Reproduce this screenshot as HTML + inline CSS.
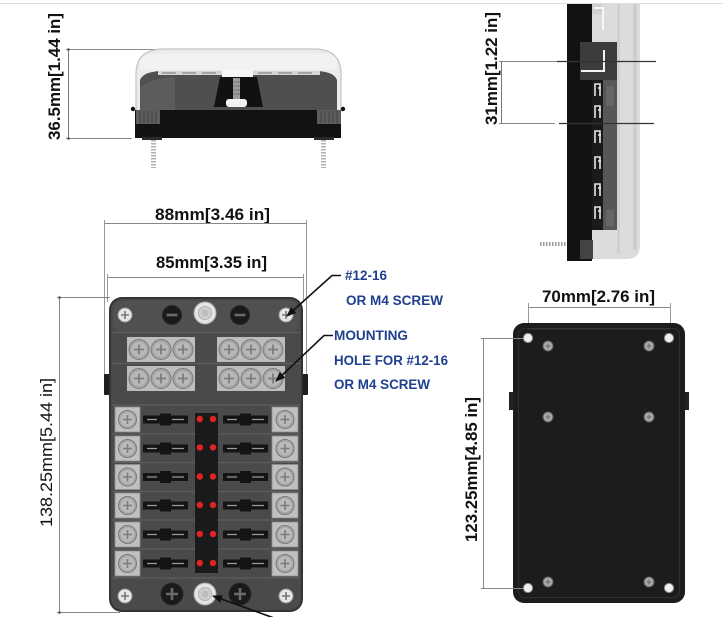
<!DOCTYPE html>
<html>
<head>
<meta charset="utf-8">
<style>
html,body{margin:0;padding:0;background:#fff;}
svg{display:block;}
text{font-family:"Liberation Sans",Arial,sans-serif;}
</style>
</head>
<body>
<svg width="723" height="617" viewBox="0 0 723 617" xmlns="http://www.w3.org/2000/svg">
<defs>
  <marker id="ah" markerWidth="10" markerHeight="8" refX="9" refY="4" orient="auto" markerUnits="userSpaceOnUse">
    <path d="M0,0 L10,4 L0,8 Z" fill="#111"/>
  </marker>
  <g id="ts">
    <circle r="10" fill="#a6a6a6" stroke="#7a7a7a" stroke-width="1"/>
    <circle r="7.5" fill="#b8b8b8"/>
    <path d="M-5,0H5M0,-5V5" stroke="#7c7c7c" stroke-width="1.8"/>
  </g>
  <g id="fs">
    <circle r="9" fill="#a8a8a8" stroke="#7a7a7a" stroke-width="1"/>
    <circle r="6.8" fill="#bababa"/>
    <path d="M-4.5,0H4.5M0,-4.5V4.5" stroke="#7c7c7c" stroke-width="1.6"/>
  </g>
  <g id="ws">
    <circle r="7" fill="#e6e6e6" stroke="#9a9a9a" stroke-width="1"/>
    <path d="M-4,0H4M0,-4V4" stroke="#777" stroke-width="1.6"/>
  </g>
  <g id="bk">
    <circle r="11" fill="#1a1a1a" stroke="#2a2a2a"/>
    <path d="M-6,0H6M0,-6V6" stroke="#6a6a6a" stroke-width="2.6"/>
  </g>
  <g id="bm">
    <circle r="9.5" fill="#1a1a1a" stroke="#2a2a2a"/>
    <path d="M-5.5,0H5.5" stroke="#6a6a6a" stroke-width="2.6"/>
  </g>
  <g id="nut">
    <circle r="11" fill="#e4e4e4" stroke="#a8a8a8"/>
    <circle r="6.5" fill="#cfcfcf" stroke="#b0b0b0"/>
    <circle r="3.5" fill="#bdbdbd"/>
  </g>
  <g id="fuse">
    <rect x="0" y="-4" width="45" height="8" fill="#141414"/>
    <rect x="17" y="-6" width="11" height="12" fill="#141414"/>
    <path d="M4,0H14M29,0H41" stroke="#9a9a9a" stroke-width="1.2"/>
  </g>
  <g id="hole">
    <circle r="4.6" fill="#efefef" stroke="#8a8a8a" stroke-width="1"/>
  </g>
  <g id="ps">
    <circle r="5" fill="#a9a9a9" stroke="#5e5e5e" stroke-width="1"/>
    <path d="M-2.5,0H2.5M0,-2.5V2.5" stroke="#666" stroke-width="1"/>
  </g>
</defs>

<!-- top thin gray line -->
<line x1="0" y1="3.5" x2="723" y2="3.5" stroke="#dedede" stroke-width="1"/>

<!-- ============ TOP SIDE VIEW ============ -->
<!-- dimension 36.5 -->
<line x1="66" y1="49.5" x2="170" y2="49.5" stroke="#8a8a8a" stroke-width="1"/>
<line x1="66" y1="138.5" x2="132" y2="138.5" stroke="#8a8a8a" stroke-width="1"/>
<line x1="68.5" y1="49" x2="68.5" y2="139" stroke="#777" stroke-width="1"/>
<circle cx="68.5" cy="49.5" r="1.3" fill="#555"/>
<circle cx="68.5" cy="138.5" r="1.3" fill="#555"/>
<text transform="translate(60,140) rotate(-90)" x="0" y="0" font-size="17" font-weight="bold" fill="#111" textLength="127" lengthAdjust="spacingAndGlyphs">36.5mm[1.44 in]</text>

<!-- cover -->
<path d="M136,112 L136,74 Q136,50 162,49 L316,49 Q341,50 341,74 L341,112 Z" fill="#ebebeb" stroke="#c4c4c4" stroke-width="1.2"/>
<path d="M140,70 L140,60 Q142,54 160,54 L318,54 Q336,54 337,60 L337,70 Z" fill="#f2f2f2"/>
<!-- inner dark block -->
<path d="M140,110 L140,80 Q143,72 160,71 L318,71 Q334,72 337,80 L337,110 Z" fill="#4f4f4f"/>
<path d="M140,110 L140,88 Q150,78 175,77 L175,110 Z" fill="#5c5c5c"/>
<rect x="158" y="71" width="162" height="4" fill="#d6d6d6"/>
<path d="M162,73H176M182,73H196M202,73H216M258,73H272M278,73H292M298,73H312" stroke="#888" stroke-width="1.2"/>
<!-- trapezoid -->
<rect x="222" y="70" width="31" height="8" fill="#f6f6f6"/>
<polygon points="220,77 257,77 263,107 214,107" fill="#111"/>
<rect x="233" y="78" width="7" height="22" fill="#9c9c9c"/>
<path d="M233,82H240M233,86H240M233,90H240M233,94H240" stroke="#777" stroke-width="1"/>
<rect x="226" y="99" width="21" height="8" rx="3" fill="#f2f2f2"/>
<!-- black base -->
<rect x="135" y="110" width="206" height="28" fill="#121212"/>
<rect x="136" y="110" width="24" height="14" fill="#5c5c5c"/>
<rect x="317" y="110" width="24" height="14" fill="#5c5c5c"/>
<path d="M140,111V123M144,111V123M148,111V123M152,111V123M156,111V123M321,111V123M325,111V123M329,111V123M333,111V123M337,111V123" stroke="#444" stroke-width="1"/>
<circle cx="133" cy="109" r="2.2" fill="#111"/>
<circle cx="343" cy="109" r="2.2" fill="#111"/>
<rect x="142" y="137" width="20" height="3" fill="#2a2a2a"/>
<rect x="314" y="137" width="20" height="3" fill="#2a2a2a"/>
<!-- screws below -->
<line x1="153.5" y1="140" x2="153.5" y2="168" stroke="#b0b0b0" stroke-width="5" stroke-dasharray="1.5 1.5"/>
<line x1="323.5" y1="140" x2="323.5" y2="168" stroke="#b0b0b0" stroke-width="5" stroke-dasharray="1.5 1.5"/>

<!-- ============ RIGHT SIDE VIEW ============ -->
<path d="M592,4 L640,4 L640,246 Q640,259 627,259 L592,259 Z" fill="#dcdcdc"/>
<rect x="633" y="4" width="4" height="246" fill="#cdcdcd"/>
<rect x="617" y="4" width="3" height="250" fill="#d0d0d0"/>
<rect x="567" y="4" width="25" height="257" fill="#121212"/>
<rect x="592" y="4" width="10" height="10" fill="#cfcfcf"/>
<path d="M594,8 L603,8 L603,30" stroke="#f6f6f6" stroke-width="2" fill="none"/>
<rect x="580" y="42" width="37" height="38" fill="#3c3c3c"/>
<path d="M581,71 L604,71 L604,50" stroke="#f2f2f2" stroke-width="2" fill="none"/>
<rect x="592" y="80" width="11" height="150" fill="#1a1a1a"/>
<rect x="603" y="80" width="14" height="150" fill="#575757"/>
<rect x="606" y="86" width="8" height="20" fill="#666"/>
<rect x="606" y="210" width="8" height="16" fill="#666"/>
<g fill="none" stroke="#e8e8e8" stroke-width="1.6">
  <path d="M595,96V84H600V96M598,88H601"/>
  <path d="M595,118V106H600V118M598,110H601"/>
  <path d="M595,143V131H600V143M598,135H601"/>
  <path d="M595,169V157H600V169M598,161H601"/>
  <path d="M595,196V184H600V196M598,188H601"/>
  <path d="M595,219V207H600V219M598,211H601"/>
</g>
<rect x="580" y="240" width="13" height="19" fill="#444"/>
<line x1="540" y1="244" x2="567" y2="244" stroke="#9a9a9a" stroke-width="4" stroke-dasharray="1.5 1.5"/>
<!-- dimension 31 -->
<line x1="499" y1="61.5" x2="557" y2="61.5" stroke="#8a8a8a" stroke-width="1"/>
<line x1="557" y1="61.5" x2="656" y2="61.5" stroke="#333" stroke-width="1.2"/>
<line x1="499" y1="123.5" x2="555" y2="123.5" stroke="#8a8a8a" stroke-width="1"/>
<line x1="559" y1="123.5" x2="654" y2="123.5" stroke="#333" stroke-width="1.2"/>
<line x1="501.5" y1="61" x2="501.5" y2="124" stroke="#777" stroke-width="1"/>
<text transform="translate(497,125) rotate(-90)" x="0" y="0" font-size="17" font-weight="bold" fill="#111" textLength="113" lengthAdjust="spacingAndGlyphs">31mm[1.22 in]</text>

<!-- ============ MAIN FRONT VIEW ============ -->
<!-- dims -->
<text x="155" y="220" font-size="17" font-weight="bold" fill="#111" textLength="115" lengthAdjust="spacingAndGlyphs">88mm[3.46 in]</text>
<line x1="104" y1="223.5" x2="306" y2="223.5" stroke="#888" stroke-width="1"/>
<line x1="104.5" y1="220" x2="104.5" y2="376" stroke="#999" stroke-width="1"/>
<line x1="306.5" y1="220" x2="306.5" y2="376" stroke="#999" stroke-width="1"/>
<text x="156" y="268" font-size="17" font-weight="bold" fill="#111" textLength="111" lengthAdjust="spacingAndGlyphs">85mm[3.35 in]</text>
<line x1="107" y1="277.5" x2="303" y2="277.5" stroke="#888" stroke-width="1"/>
<line x1="107.5" y1="274" x2="107.5" y2="302" stroke="#999" stroke-width="1"/>
<line x1="303.5" y1="274" x2="303.5" y2="302" stroke="#999" stroke-width="1"/>
<!-- 138.25 -->
<line x1="57" y1="297.5" x2="110" y2="297.5" stroke="#888" stroke-width="1"/>
<line x1="57" y1="612.5" x2="120" y2="612.5" stroke="#888" stroke-width="1"/>
<line x1="59.5" y1="297" x2="59.5" y2="613" stroke="#888" stroke-width="1"/>
<circle cx="59.5" cy="297.5" r="1.3" fill="#555"/>
<circle cx="59.5" cy="612.5" r="1.3" fill="#555"/>
<text transform="translate(52,527) rotate(-90)" x="0" y="0" font-size="17" fill="#111" textLength="149" lengthAdjust="spacingAndGlyphs">138.25mm[5.44 in]</text>

<!-- side tabs -->
<rect x="104" y="374" width="6" height="21" rx="1" fill="#1e1e1e"/>
<rect x="302" y="374" width="6" height="21" rx="1" fill="#1e1e1e"/>
<!-- body -->
<rect x="109" y="297" width="194" height="315" rx="13" fill="#333"/>
<rect x="111" y="299" width="190" height="311" rx="11" fill="#4a4a4a"/>
<rect x="113" y="301" width="186" height="31" rx="9" fill="#505050"/>
<line x1="112" y1="332.5" x2="300" y2="332.5" stroke="#606060" stroke-width="1.2"/>
<line x1="112" y1="363.5" x2="300" y2="363.5" stroke="#5f5f5f" stroke-width="1.2"/>
<!-- row separators -->
<g stroke="#5e5e5e" stroke-width="1.2">
  <line x1="112" y1="405" x2="300" y2="405"/>
  <line x1="112" y1="434" x2="300" y2="434"/>
  <line x1="112" y1="462.5" x2="300" y2="462.5"/>
  <line x1="112" y1="491.5" x2="300" y2="491.5"/>
  <line x1="112" y1="520" x2="300" y2="520"/>
  <line x1="112" y1="549" x2="300" y2="549"/>
  <line x1="112" y1="578" x2="300" y2="578"/>
</g>

<!-- top row items -->
<use href="#ws" x="125" y="315"/>
<use href="#bm" x="172" y="315"/>
<use href="#nut" x="205" y="313"/>
<use href="#bm" x="240" y="315"/>
<use href="#ws" x="286" y="315"/>

<!-- terminal bars -->
<rect x="127" y="337" width="68" height="25" fill="#bdbdbd"/>
<rect x="217" y="337" width="68" height="25" fill="#bdbdbd"/>
<rect x="127" y="366" width="68" height="25" fill="#bdbdbd"/>
<rect x="217" y="366" width="68" height="25" fill="#bdbdbd"/>
<use href="#ts" x="139" y="349.5"/>
<use href="#ts" x="161" y="349.5"/>
<use href="#ts" x="183" y="349.5"/>
<use href="#ts" x="229" y="349.5"/>
<use href="#ts" x="251" y="349.5"/>
<use href="#ts" x="273" y="349.5"/>
<use href="#ts" x="139" y="378.5"/>
<use href="#ts" x="161" y="378.5"/>
<use href="#ts" x="183" y="378.5"/>
<use href="#ts" x="229" y="378.5"/>
<use href="#ts" x="251" y="378.5"/>
<use href="#ts" x="273" y="378.5"/>

<!-- fuse terminals -->
<g fill="#c0c0c0" stroke="#8f8f8f" stroke-width="0.8">
  <rect x="115" y="407" width="25" height="25"/>
  <rect x="115" y="436" width="25" height="25"/>
  <rect x="115" y="464.5" width="25" height="25"/>
  <rect x="115" y="493" width="25" height="25"/>
  <rect x="115" y="522" width="25" height="25"/>
  <rect x="115" y="551" width="25" height="25"/>
  <rect x="272" y="407" width="26" height="25"/>
  <rect x="272" y="436" width="26" height="25"/>
  <rect x="272" y="464.5" width="26" height="25"/>
  <rect x="272" y="493" width="26" height="25"/>
  <rect x="272" y="522" width="26" height="25"/>
  <rect x="272" y="551" width="26" height="25"/>
</g>
<use href="#fs" x="127.5" y="419.5"/>
<use href="#fs" x="127.5" y="448.5"/>
<use href="#fs" x="127.5" y="477"/>
<use href="#fs" x="127.5" y="505.5"/>
<use href="#fs" x="127.5" y="534.5"/>
<use href="#fs" x="127.5" y="563.5"/>
<use href="#fs" x="285" y="419.5"/>
<use href="#fs" x="285" y="448.5"/>
<use href="#fs" x="285" y="477"/>
<use href="#fs" x="285" y="505.5"/>
<use href="#fs" x="285" y="534.5"/>
<use href="#fs" x="285" y="563.5"/>

<!-- fuses -->
<use href="#fuse" x="143" y="419.5"/>
<use href="#fuse" x="143" y="448.5"/>
<use href="#fuse" x="143" y="477"/>
<use href="#fuse" x="143" y="505.5"/>
<use href="#fuse" x="143" y="534.5"/>
<use href="#fuse" x="143" y="563.5"/>
<use href="#fuse" x="223" y="419.5"/>
<use href="#fuse" x="223" y="448.5"/>
<use href="#fuse" x="223" y="477"/>
<use href="#fuse" x="223" y="505.5"/>
<use href="#fuse" x="223" y="534.5"/>
<use href="#fuse" x="223" y="563.5"/>

<!-- central LED strip -->
<rect x="195" y="413" width="23" height="160" fill="#1a1a1a"/>
<g fill="#e02424">
  <circle cx="199.8" cy="419" r="3.2"/><circle cx="213" cy="419" r="3.2"/>
  <circle cx="199.8" cy="447.5" r="3.2"/><circle cx="213" cy="447.5" r="3.2"/>
  <circle cx="199.8" cy="476.5" r="3.2"/><circle cx="213" cy="476.5" r="3.2"/>
  <circle cx="199.8" cy="505" r="3.2"/><circle cx="213" cy="505" r="3.2"/>
  <circle cx="199.8" cy="534" r="3.2"/><circle cx="213" cy="534" r="3.2"/>
  <circle cx="199.8" cy="563" r="3.2"/><circle cx="213" cy="563" r="3.2"/>
</g>

<!-- bottom row -->
<use href="#ws" x="125" y="596"/>
<use href="#bk" x="172" y="594"/>
<use href="#nut" x="205" y="594"/>
<use href="#bk" x="240" y="594"/>
<use href="#ws" x="286" y="596"/>

<!-- leaders -->
<polyline points="341,275.5 332,275.5 287,316" fill="none" stroke="#111" stroke-width="1.6" marker-end="url(#ah)"/>
<polyline points="333,335.5 324,335.5 276,381" fill="none" stroke="#111" stroke-width="1.6" marker-end="url(#ah)"/>
<line x1="274" y1="618" x2="213" y2="596" stroke="#111" stroke-width="1.6" marker-end="url(#ah)"/>

<!-- blue labels -->
<g font-size="13.5" font-weight="bold" fill="#20408f">
  <text x="345" y="280" textLength="42" lengthAdjust="spacingAndGlyphs">#12-16</text>
  <text x="346" y="305" textLength="97" lengthAdjust="spacingAndGlyphs">OR M4 SCREW</text>
  <text x="334" y="340" textLength="74" lengthAdjust="spacingAndGlyphs">MOUNTING</text>
  <text x="334" y="365" textLength="114" lengthAdjust="spacingAndGlyphs">HOLE FOR #12-16</text>
  <text x="334" y="389" textLength="96" lengthAdjust="spacingAndGlyphs">OR M4 SCREW</text>
</g>

<!-- ============ BACK VIEW ============ -->
<text x="542" y="302" font-size="17" font-weight="bold" fill="#111" textLength="113" lengthAdjust="spacingAndGlyphs">70mm[2.76 in]</text>
<line x1="528" y1="307.5" x2="670" y2="307.5" stroke="#888" stroke-width="1"/>
<line x1="528.5" y1="303" x2="528.5" y2="336" stroke="#999" stroke-width="1"/>
<line x1="670.5" y1="303" x2="670.5" y2="336" stroke="#999" stroke-width="1"/>

<rect x="509" y="392" width="6" height="18" fill="#222"/>
<rect x="683" y="392" width="6" height="18" fill="#222"/>
<rect x="513" y="323" width="172" height="280" rx="11" fill="#1c1c1c"/>
<rect x="518.5" y="328.5" width="161" height="269" rx="6" fill="none" stroke="#303030" stroke-width="1"/>
<line x1="528" y1="329" x2="670" y2="329" stroke="#3a3a3a" stroke-width="1"/>

<use href="#hole" x="528" y="338"/>
<use href="#hole" x="669" y="338"/>
<use href="#hole" x="528" y="588"/>
<use href="#hole" x="669" y="588"/>
<use href="#ps" x="548" y="346"/>
<use href="#ps" x="649" y="346"/>
<use href="#ps" x="548" y="417"/>
<use href="#ps" x="649" y="417"/>
<use href="#ps" x="548" y="582"/>
<use href="#ps" x="649" y="582"/>

<line x1="481" y1="338.5" x2="523" y2="338.5" stroke="#888" stroke-width="1"/>
<line x1="481" y1="588.5" x2="523" y2="588.5" stroke="#888" stroke-width="1"/>
<line x1="483.5" y1="338" x2="483.5" y2="589" stroke="#888" stroke-width="1"/>
<text transform="translate(477,542) rotate(-90)" x="0" y="0" font-size="17" font-weight="bold" fill="#111" textLength="145" lengthAdjust="spacingAndGlyphs">123.25mm[4.85 in]</text>
</svg>
</body>
</html>
